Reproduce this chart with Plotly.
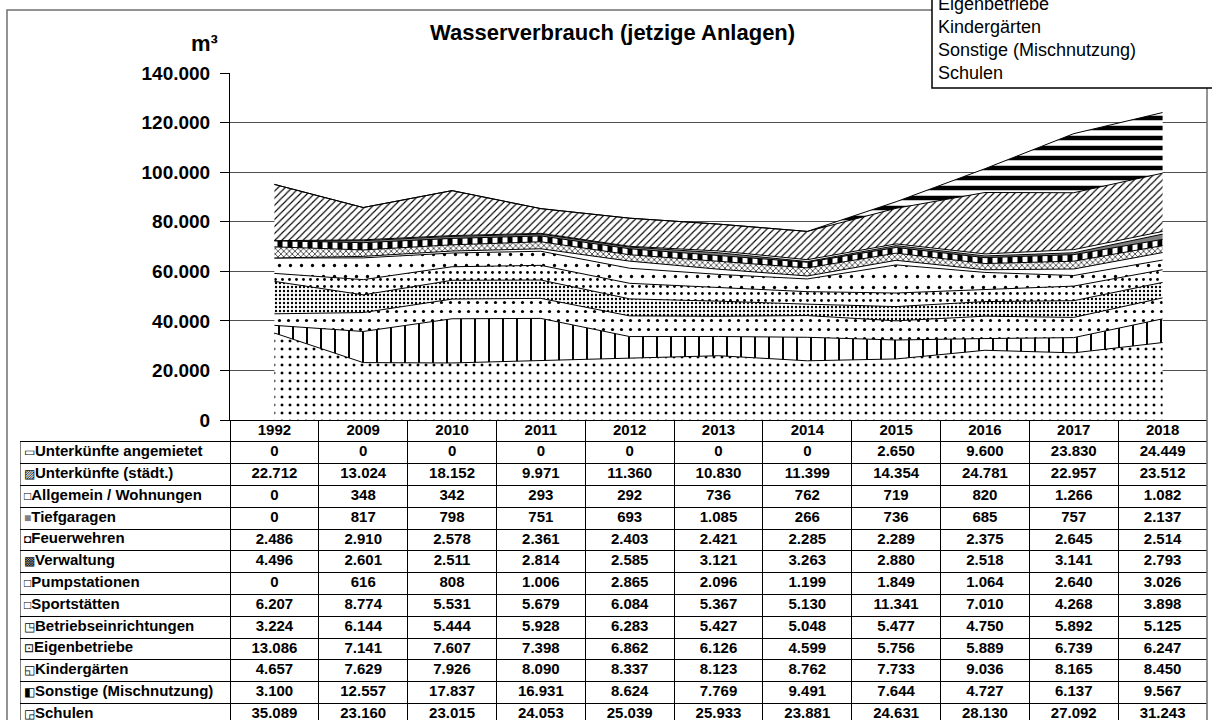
import plotly.graph_objects as go

years = ['1992', '2009', '2010', '2011', '2012', '2013', '2014', '2015', '2016', '2017', '2018']

# Series in table order (top to bottom)
series_names = [
    'Unterkünfte angemietet',
    'Unterkünfte (städt.)',
    'Allgemein / Wohnungen',
    'Tiefgaragen',
    'Feuerwehren',
    'Verwaltung',
    'Pumpstationen',
    'Sportstätten',
    'Betriebseinrichtungen',
    'Eigenbetriebe',
    'Kindergärten',
    'Sonstige (Mischnutzung)',
    'Schulen',
]

unterkuenfte_angemietet = [0, 0, 0, 0, 0, 0, 0, 2650, 9600, 23830, 24449]
unterkuenfte_staedt = [22712, 13024, 18152, 9971, 11360, 10830, 11399, 14354, 24781, 22957, 23512]
allgemein_wohnungen = [0, 348, 342, 293, 292, 736, 762, 719, 820, 1266, 1082]
tiefgaragen = [0, 817, 798, 751, 693, 1085, 266, 736, 685, 757, 2137]
feuerwehren = [2486, 2910, 2578, 2361, 2403, 2421, 2285, 2289, 2375, 2645, 2514]
verwaltung = [4496, 2601, 2511, 2814, 2585, 3121, 3263, 2880, 2518, 3141, 2793]
pumpstationen = [0, 616, 808, 1006, 2865, 2096, 1199, 1849, 1064, 2640, 3026]
sportstaetten = [6207, 8774, 5531, 5679, 6084, 5367, 5130, 11341, 7010, 4268, 3898]
betriebseinrichtungen = [3224, 6144, 5444, 5928, 6283, 5427, 5048, 5477, 4750, 5892, 5125]
eigenbetriebe = [13086, 7141, 7607, 7398, 6862, 6126, 4599, 5756, 5889, 6739, 6247]
kindergaerten = [4657, 7629, 7926, 8090, 8337, 8123, 8762, 7733, 9036, 8165, 8450]
sonstige = [3100, 12557, 17837, 16931, 8624, 7769, 9491, 7644, 4727, 6137, 9567]
schulen = [35089, 23160, 23015, 24053, 25039, 25933, 23881, 24631, 28130, 27092, 31243]

series_values = [
    unterkuenfte_angemietet, unterkuenfte_staedt, allgemein_wohnungen, tiefgaragen,
    feuerwehren, verwaltung, pumpstationen, sportstaetten, betriebseinrichtungen,
    eigenbetriebe, kindergaerten, sonstige, schulen,
]

y_ticks = [0, 20000, 40000, 60000, 80000, 100000, 120000, 140000]

# ---- styles (not data) ----
def pat(shape, size, solidity, fg='black', bg='white'):
    return dict(shape=shape, size=size, solidity=solidity, fgcolor=fg, bgcolor=bg,
                fgopacity=1, fillmode='replace')

patterns = {
    'Unterkünfte angemietet': pat('-', 10, 0.45),
    'Unterkünfte (städt.)': pat('/', 5, 0.22),
    'Allgemein / Wohnungen': None,
    'Tiefgaragen': 'gray',
    'Feuerwehren': pat('|', 10, 0.5, fg='white', bg='black'),
    'Verwaltung': pat('x', 4, 0.3),
    'Pumpstationen': None,
    'Sportstätten': pat('.', 11, 0.07),
    'Betriebseinrichtungen': pat('.', 7, 0.13),
    'Eigenbetriebe': pat('.', 4, 0.28),
    'Kindergärten': pat('.', 9, 0.1),
    'Sonstige (Mischnutzung)': pat('|', 14, 0.14),
    'Schulen': pat('.', 8, 0.11),
}
icons = ['▭', '▨', '□', '<span style="color:#808080">■</span>', '◘', '▩', '□', '□',
         '◳', '⊡', '◱', '◧', '◲']

FONT = 'Liberation Sans, Arial, sans-serif'

W, H = 1212, 720

def py(y_px):
    return (H - y_px) / H

fig = go.Figure()

# stacked areas: bottom first (Schulen) -> top (Unterkünfte angemietet)
for name, vals in reversed(list(zip(series_names, series_values))):
    p = patterns[name]
    kw = dict(x=years, y=vals, name=name, mode='lines', stackgroup='one',
              line=dict(color='black', width=1), hoverinfo='skip', showlegend=False,
              xaxis='x', yaxis='y')
    if p is None:
        kw['fillcolor'] = 'white'
    elif p == 'gray':
        kw['fillcolor'] = '#808080'
    else:
        kw['fillcolor'] = 'white'
        kw['fillpattern'] = p
    fig.add_trace(go.Scatter(**kw))

px_left, px_right = 230, 1207
py_top, py_bottom = 73, 420
tbl_left = 20
row_h = 21.8
ncol = len(years)
unit = (px_right - px_left) / ncol
L = -0.5 - (px_left - tbl_left) / unit
positions = list(range(ncol))
col_bounds = [i - 0.5 for i in range(ncol + 1)]
nrows = len(series_names) + 1
row_bounds = [k + 0.5 for k in range(nrows)]
tbl_units = (H - py_bottom) / row_h

def fmt(v):
    return f'{v:,}'.replace(',', '.')

# data table as text on a second subplot sharing the column geometry
fig.add_trace(go.Scatter(x=positions, y=[0] * ncol, text=[f'<b>{y}</b>' for y in years],
                         mode='text', textfont=dict(family=FONT, size=15, color='black'),
                         xaxis='x2', yaxis='y2', hoverinfo='skip', showlegend=False,
                         cliponaxis=False))
for i, vals in enumerate(series_values):
    fig.add_trace(go.Scatter(x=positions, y=[i + 1] * ncol,
                             text=[f'<b>{fmt(v)}</b>' for v in vals],
                             mode='text', textfont=dict(family=FONT, size=15, color='black'),
                             xaxis='x2', yaxis='y2', hoverinfo='skip', showlegend=False,
                             cliponaxis=False))

shapes = [
    dict(type='rect', xref='paper', yref='paper', x0=7 / W, x1=px_right / W,
         y0=-0.05, y1=py(10), line=dict(color='#707070', width=1.5),
         fillcolor='rgba(0,0,0,0)', layer='above'),
    dict(type='line', xref='x2', yref='y2', x0=L, x1=L, y0=0.5, y1=nrows + 1,
         line=dict(color='black', width=1), layer='above'),
    dict(type='rect', xref='paper', yref='paper', x0=932 / W, x1=1.05,
         y0=py(88), y1=1.2, line=dict(color='black', width=1.5),
         fillcolor='white', layer='above'),
]

annotations = [
    dict(text='<b>Wasserverbrauch (jetzige Anlagen)</b>', xref='paper', yref='paper',
         x=612 / W, y=py(33), xanchor='center', yanchor='middle', showarrow=False,
         font=dict(family=FONT, size=22, color='black')),
    dict(text='<b>m³</b>', xref='paper', yref='paper',
         x=204 / W, y=py(43), xanchor='center', yanchor='middle', showarrow=False,
         font=dict(family=FONT, size=22, color='black')),
]
for i, (ic, name) in enumerate(zip(icons, series_names)):
    annotations.append(dict(text=f'<span style="font-size:12px">{ic}</span><b>{name}</b>',
                            xref='x2', yref='y2', x=L, y=i + 1, xshift=2, yshift=2,
                            xanchor='left', yanchor='middle', showarrow=False,
                            font=dict(family=FONT, size=15, color='black')))
n = len(series_names)
for i, name in enumerate(series_names):
    yc = 73 - (n - 1 - i) * 23
    annotations.append(dict(text=name, xref='paper', yref='paper', x=936 / W, y=py(yc),
                            xanchor='left', yanchor='middle', showarrow=False,
                            font=dict(family=FONT, size=18, color='black')))

fig.update_layout(
    width=W, height=H,
    margin=dict(l=0, r=0, t=0, b=0, autoexpand=False),
    paper_bgcolor='white', plot_bgcolor='rgba(0,0,0,0)',
    separators=',.',
    showlegend=False,
    shapes=shapes, annotations=annotations,
    xaxis=dict(domain=[px_left / W, px_right / W], type='category', range=[-0.5, ncol - 0.5],
               showgrid=False, showticklabels=False, showline=True,
               linecolor='black', linewidth=1, ticks='', zeroline=False),
    yaxis=dict(domain=[py(py_bottom), py(py_top)], range=[0, 140000],
               tickvals=y_ticks, tickformat=',d',
               showgrid=True, gridcolor='#505050', gridwidth=1,
               showline=True, linecolor='black', linewidth=1,
               ticks='outside', ticklen=9, tickcolor='black', ticklabelstandoff=6,
               tickfont=dict(family=FONT, size=19, color='black', weight='bold'),
               zeroline=False),
    xaxis2=dict(domain=[tbl_left / W, px_right / W], anchor='y2', range=[L, ncol - 0.5],
                tickvals=col_bounds, showgrid=True, gridcolor='black', gridwidth=1,
                showticklabels=False, ticks='', zeroline=False, showline=False),
    yaxis2=dict(domain=[0, py(py_bottom)], anchor='x2',
                range=[tbl_units - 0.5, -0.5],
                tickvals=row_bounds, showgrid=True, gridcolor='black', gridwidth=1,
                showticklabels=False, ticks='', zeroline=False, showline=False),
)

fig.write_html('out.html', config={'displayModeBar': False},
               post_script="document.body.style.margin='0';document.documentElement.style.overflow='hidden';")
